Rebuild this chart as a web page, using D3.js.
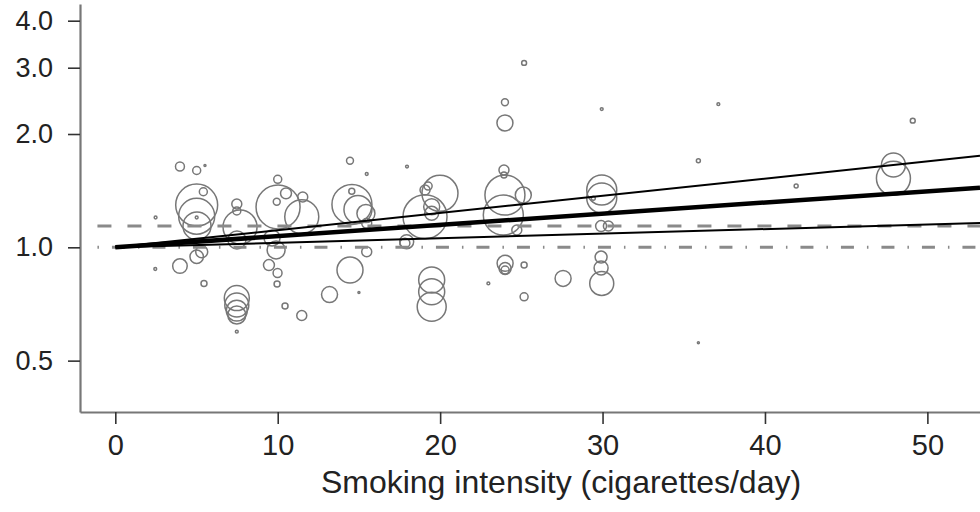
<!DOCTYPE html>
<html>
<head>
<meta charset="utf-8">
<script src="https://cdn.jsdelivr.net/npm/d3@7"></script>
<style>
  body { margin: 0; background: #fff; }
  text { font-family: "Liberation Sans", Arial, Helvetica, sans-serif; fill: #222; }
</style>
</head>
<body>
<div id="chart-area"></div>
<script>
// Bubble data: smoking intensity (cig/day), relative risk, study weight
const bubbleX = [3.98, 5.01, 5.52, 5.01, 5.01, 5.03, 5.01, 5.42, 2.48, 2.46,
	3.98, 5.01, 5.32, 5.46, 7.48, 7.48, 7.48, 7.48, 7.48, 7.48,
	7.48, 7.68, 7.49, 10.02, 11.48, 10.0, 10.51, 9.94, 11.54, 9.65,
	9.9, 9.46, 9.99, 9.96, 10.45, 11.48, 13.19, 14.45, 15.0, 15.48,
	14.57, 14.94, 15.43, 15.48, 14.45, 15.48, 14.56, 17.96, 17.94, 17.83,
	19.07, 19.99, 19.07, 19.48, 19.48, 19.48, 19.48, 19.48, 19.26, 25.17,
	23.99, 23.99, 23.93, 23.93, 23.99, 23.89, 25.12, 24.72, 24.0, 24.0,
	24.0, 25.17, 25.17, 22.97, 27.57, 29.95, 29.95, 29.43, 29.91, 30.36,
	29.91, 29.91, 29.95, 29.95, 37.13, 35.9, 41.92, 49.1, 47.91, 47.91,
	35.9];
const bubbleRR = [1.64, 1.60, 1.65, 1.295, 1.21, 1.14, 1.20, 1.405, 1.20, 0.876,
	0.892, 0.944, 0.973, 0.802, 0.733, 0.703, 0.679, 0.661, 0.597, 1.303,
	1.249, 1.132, 1.046, 1.28, 1.206, 1.516, 1.391, 1.322, 1.36, 1.059,
	0.984, 0.897, 0.855, 0.799, 0.698, 0.659, 0.749, 0.870, 0.758, 0.973,
	1.30, 1.26, 1.23, 1.158, 1.698, 1.566, 1.41, 1.639, 1.035, 1.025,
	1.206, 1.391, 1.42, 1.282, 1.231, 0.819, 0.762, 0.695, 1.455, 3.09,
	2.43, 2.14, 1.604, 1.556, 1.377, 1.218, 1.377, 1.112, 0.907, 0.879,
	0.870, 0.897, 0.739, 0.802, 0.827, 1.42, 1.352, 1.35, 1.139, 1.139,
	0.942, 0.881, 0.802, 2.33, 2.40, 1.698, 1.455, 2.17, 1.654, 1.525,
	0.558];
const bubbleW = [20, 16, 1, 440, 324, 196, 2, 16, 2, 2,
	53, 45, 36, 9, 156, 144, 110, 81, 2, 25,
	16, 289, 81, 484, 289, 16, 30, 12, 25, 64,
	81, 30, 20, 9, 9, 25, 64, 169, 1, 25,
	400, 196, 81, 25, 12, 2, 9, 2, 49, 25,
	484, 324, 25, 64, 49, 169, 169, 210, 16, 6,
	12, 64, 25, 9, 400, 400, 64, 25, 64, 36,
	16, 9, 16, 2, 64, 225, 225, 4, 30, 25,
	36, 49, 144, 2, 2, 4, 4, 6, 144, 289,
	1];

// Fitted trend (thick) and its confidence limits
const lineX = [0, 53.24];
const fitRR = [1.0, 1.44];
const upperRR = [1.0, 1.75];
const lowerRR = [1.0, 1.16];

// Horizontal reference lines
const refX = [-1.1, 53.24];
const dashedRR = 1.14;
const dotdashRR = 1.0;

const xTicks = [0, 10, 20, 30, 40, 50];
const yTicks = [0.5, 1.0, 2.0, 3.0, 4.0];
const xTitle = "Smoking intensity (cigarettes/day)";

let width = 980,
	height = 512;

let svg = d3.select("#chart-area")
	.append("svg")
	.attr("width", width)
	.attr("height", height);

const x = d3.scaleLinear()
	.domain([-2.174, 53.24])
	.range([80, 980]);

const y = d3.scaleLog()
	.domain([0.3652, 4.43])
	.range([412, 4]);

const r = d3.scaleSqrt()
	.domain([0, 625])
	.range([0, 25]);

// bubbles
const bubbles = bubbleX.map((d, i) => ({x: d, rr: bubbleRR[i], w: bubbleW[i]}));
svg.append("g")
	.selectAll("circle")
	.data(bubbles)
	.enter()
	.append("circle")
	.attr("cx", d => x(d.x))
	.attr("cy", d => y(d.rr))
	.attr("r", d => Math.max(1, r(d.w)))
	.style("fill", "none")
	.style("stroke", "#777")
	.style("stroke-width", 1.5);

// reference lines
svg.append("line")
	.attr("x1", x(refX[0])).attr("x2", x(refX[1]))
	.attr("y1", y(dashedRR)).attr("y2", y(dashedRR))
	.style("stroke", "#8a8a8a")
	.style("stroke-width", 3)
	.style("stroke-dasharray", "14,16");

svg.append("line")
	.attr("x1", x(refX[0])).attr("x2", x(refX[1]))
	.attr("y1", y(dotdashRR)).attr("y2", y(dotdashRR))
	.style("stroke", "#8a8a8a")
	.style("stroke-width", 3)
	.style("stroke-dasharray", "1.5,13,13,13");

// fitted lines
const line = d3.line()
	.x(d => x(d[0]))
	.y(d => y(d[1]));

[[upperRR, 2], [lowerRR, 2], [fitRR, 4.5]].forEach(([vals, lw]) => {
	svg.append("path")
		.datum(lineX.map((v, i) => [v, vals[i]]))
		.attr("d", line)
		.style("fill", "none")
		.style("stroke", "#000")
		.style("stroke-width", lw);
});

// axes
const xAxis = d3.axisBottom(x)
	.tickValues(xTicks)
	.tickSize(12)
	.tickSizeOuter(0)
	.tickPadding(10);
const yAxis = d3.axisLeft(y)
	.tickValues(yTicks)
	.tickFormat(d3.format(".1f"))
	.tickSize(12)
	.tickSizeOuter(0)
	.tickPadding(15);

const gx = svg.append("g")
	.attr("class", "x-axis")
	.attr("transform", "translate(0,412)")
	.call(xAxis);
const gy = svg.append("g")
	.attr("class", "y-axis")
	.attr("transform", "translate(80,0)")
	.call(yAxis);

[gx, gy].forEach(g => {
	g.select(".domain").style("stroke", "#777").style("stroke-width", 2.2);
	g.selectAll(".tick line").style("stroke", "#333").style("stroke-width", 1.6);
	g.selectAll(".tick text").style("fill", "#222").attr("font-family", null);
});
gx.selectAll(".tick text").style("font-size", "29px");
gy.selectAll(".tick text").style("font-size", "27px");

// x-axis title
svg.append("text")
	.attr("text-anchor", "middle")
	.attr("x", 561)
	.attr("y", 493)
	.style("font-size", "32px")
	.text(xTitle);
</script>
</body>
</html>
